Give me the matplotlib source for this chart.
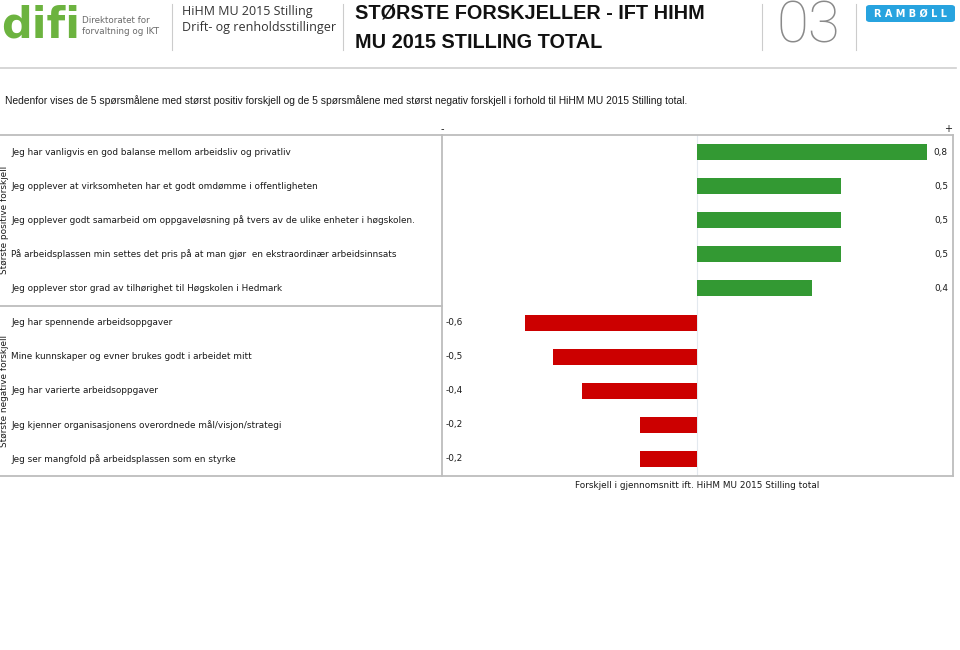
import matplotlib
matplotlib.use("Agg")
import matplotlib.pyplot as plt
from matplotlib.patches import FancyBboxPatch
from matplotlib.lines import Line2D
import matplotlib.transforms as mtransforms

# data
questions = [
    "Jeg har vanligvis en god balanse mellom arbeidsliv og privatliv",
    "Jeg opplever at virksomheten har et godt omdømme i offentligheten",
    "Jeg opplever godt samarbeid om oppgaveløsning på tvers av de ulike enheter i høgskolen.",
    "På arbeidsplassen min settes det pris på at man gjør  en ekstraordinær arbeidsinnsats",
    "Jeg opplever stor grad av tilhørighet til Høgskolen i Hedmark",
    "Jeg har spennende arbeidsoppgaver",
    "Mine kunnskaper og evner brukes godt i arbeidet mitt",
    "Jeg har varierte arbeidsoppgaver",
    "Jeg kjenner organisasjonens overordnede mål/visjon/strategi",
    "Jeg ser mangfold på arbeidsplassen som en styrke",
]
diffs = [0.8, 0.5, 0.5, 0.5, 0.4, -0.6, -0.5, -0.4, -0.2, -0.2]
groups = ["Største positive forskjell", "Største negative forskjell"]

W, H = 960, 650
fig = plt.figure(figsize=(W / 100, H / 100), dpi=100)
fig.patch.set_facecolor("white")

def fx(px):
    return px / W

def fy(py):
    return 1 - py / H

grey_line = "#bdbdbd"
txt = "#1a1a1a"
fs = 6.4

# ---- header ----
fig.text(fx(1), fy(25), "difi", fontsize=31, fontweight="bold", color="#6cb33f",
         va="center", ha="left", family="DejaVu Sans")
fig.text(fx(82), fy(26), "Direktoratet for\nforvaltning og IKT", fontsize=6.3,
         color="#6b6b6b", va="center", ha="left", linespacing=1.2)
for x in (172, 343, 762, 856):
    fig.add_artist(Line2D([fx(x), fx(x)], [fy(4), fy(50)], color="#cccccc", lw=0.8))
fig.text(fx(182), fy(11), "HiHM MU 2015 Stilling", fontsize=9, color="#333333",
         va="center", ha="left", family="Open Sans")
fig.text(fx(182), fy(28), "Drift- og renholdsstillinger", fontsize=9, color="#333333",
         va="center", ha="left", family="Open Sans")
fig.text(fx(355), fy(13), "STØRSTE FORSKJELLER - IFT HIHM", fontsize=14.3,
         fontweight="bold", color="#111111", va="center", ha="left", family="Liberation Sans")
fig.text(fx(355), fy(43), "MU 2015 STILLING TOTAL", fontsize=14.3,
         fontweight="bold", color="#111111", va="center", ha="left", family="Liberation Sans")
fig.text(fx(808), fy(27), "03", fontsize=42, color="#8a8a8a", va="center",
         ha="center", family="Roboto", fontweight="light")
fig.add_artist(FancyBboxPatch((fx(866), fy(22)), fx(89), 17 / H,
                              boxstyle="round,pad=0,rounding_size=0.004",
                              facecolor="#27a3df", edgecolor="none"))
fig.text(fx(910), fy(13.5), "R A M B Ø L L", fontsize=7, fontweight="bold", color="white",
         va="center", ha="center")
fig.add_artist(Line2D([0, fx(956)], [fy(68), fy(68)], color="#cfcfcf", lw=1.2))

fig.text(fx(5), fy(101),
         "Nedenfor vises de 5 spørsmålene med størst positiv forskjell og de 5 spørsmålene "
         "med størst negativ forskjell i forhold til HiHM MU 2015 Stilling total.",
         fontsize=7.4, color=txt, va="center", ha="left", family="Liberation Sans")

# ---- chart ----
ax = fig.add_axes([fx(442), fy(476), fx(953) - fx(442), (476 - 135) / H])
ypos = list(range(len(diffs)))
colors = ["#339933" if d > 0 else "#cc0000" for d in diffs]
ax.barh(ypos, diffs, height=0.47, color=colors, zorder=3)
ax.set_xlim(-0.887, 0.89)
ax.set_ylim(len(diffs) - 0.5, -0.5)
ax.axvline(0, color="#e3e9ef", lw=0.8, zorder=1)
ax.set_xticks([])
ax.set_yticks([])
for s in ax.spines.values():
    s.set_color(grey_line)
    s.set_linewidth(1.3)

for y, d in zip(ypos, diffs):
    lab = f"{d:.1f}".replace(".", ",")
    if d > 0:
        ax.text(0.99, y, lab, transform=ax.get_yaxis_transform(), ha="right",
                va="center", fontsize=fs, color=txt)
    else:
        ax.text(0.006, y, lab, transform=ax.get_yaxis_transform(), ha="left",
                va="center", fontsize=fs, color=txt)

# left label panel
bt = mtransforms.blended_transform_factory(fig.transFigure, ax.transData)
for y, q in zip(ypos, questions):
    ax.text(fx(11), y, q, transform=bt, ha="left", va="center", fontsize=fs, color=txt)
for yl in (-0.5, 4.5, 9.5):
    ax.add_artist(Line2D([0, fx(442)], [yl, yl], transform=bt, color=grey_line,
                         lw=1.3, clip_on=False))
ax.text(fx(5), 2, groups[0], transform=bt, rotation=90, ha="center", va="center",
        fontsize=fs, color=txt)
ax.text(fx(5), 7, groups[1], transform=bt, rotation=90, ha="center", va="center",
        fontsize=fs, color=txt)

ax.text(0.0, 1.018, "-", transform=ax.transAxes, ha="center", va="center", fontsize=7, color=txt)
ax.text(0.99, 1.018, "+", transform=ax.transAxes, ha="center", va="center", fontsize=7, color=txt)
fig.text(fx(697), fy(486), "Forskjell i gjennomsnitt ift. HiHM MU 2015 Stilling total",
         ha="center", va="center", fontsize=fs, color=txt)

fig.savefig("out.png", dpi=100)
